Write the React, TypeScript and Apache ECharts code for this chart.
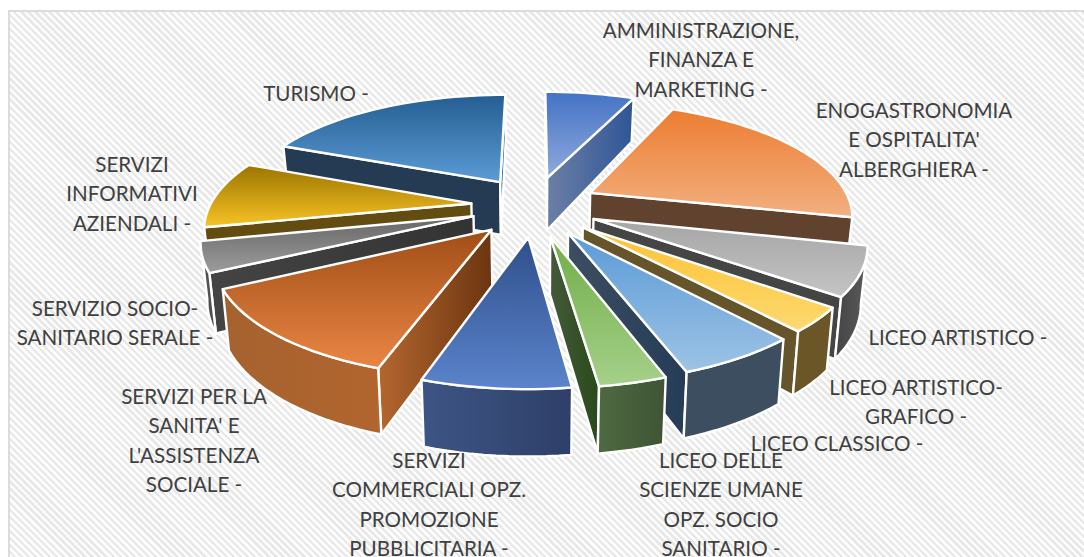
import React, { useEffect, useRef } from "react";
import * as echarts from "echarts";

const categories = [
  "AMMINISTRAZIONE,\nFINANZA E\nMARKETING -",
  "ENOGASTRONOMIA\nE OSPITALITA'\nALBERGHIERA -",
  "LICEO ARTISTICO -",
  "LICEO ARTISTICO-\nGRAFICO -",
  "LICEO CLASSICO -",
  "LICEO DELLE\nSCIENZE UMANE\nOPZ. SOCIO\nSANITARIO -",
  "SERVIZI\nCOMMERCIALI OPZ.\nPROMOZIONE\nPUBBLICITARIA -",
  "SERVIZI PER LA\nSANITA' E\nL'ASSISTENZA\nSOCIALE -",
  "SERVIZIO SOCIO-\nSANITARIO SERALE -",
  "SERVIZI\nINFORMATIVI\nAZIENDALI -",
  "TURISMO -",
];
const values = [6.7, 21.8, 6.7, 3.3, 6.0, 3.3, 7.2, 12.4, 4.15, 9.4, 18.9];

const labelCenterX = [701, 914, 958, 916, 837, 721, 429, 194, 115, 132, 316];
const labelFirstLineY = [30, 110, 337, 387, 443, 460, 460, 396, 308, 164, 93];

const topColors = [
  ["#4472c4", "#8faadc"], ["#ed7d31", "#f2b081"], ["#a5a5a5", "#c4c4c4"], ["#fdc233", "#fdd970"],
  ["#5b9bd5", "#9dc3e6"], ["#70ad47", "#a5d08a"], ["#2f4f8a", "#5b84cc"], ["#a04e17", "#ea8644"],
  ["#666666", "#9c9c9c"], ["#9c7400", "#f8c425"], ["#255e91", "#5b9bd5"],
];
const startWallColors = [
  ["#6b7fa5", "#2f5597"], ["#61422f", "#61422f"], ["#454545", "#454545"], ["#66542a", "#66542a"],
  ["#3c4e60", "#3c4e60"], ["#445a3a", "#2a4a1a"], ["#3d5585", "#2e3f68"], ["#b5662f", "#6b3510"],
  ["#444444", "#333333"], ["#634c0f", "#634c0f"], ["#243b53", "#243b53"],
];
const endWallColors = [
  ["#6b7fa5", "#2f5597"], ["#61422f", "#61422f"], ["#454545", "#454545"], ["#66542a", "#66542a"],
  ["#3c4e60", "#253c58"], ["#445a3a", "#2a4a1a"], ["#3d5585", "#2e3f68"], ["#8a4a1c", "#6b3510"],
  ["#444444", "#2e2e2e"], ["#634c0f", "#634c0f"], ["#2e6da4", "#2e6da4"],
];
const outerWallColors = [
  ["#6b7fa5", "#2f5597"], ["#61422f", "#61422f"], ["#444444", "#5a5a5a"], ["#6a5626", "#6a5626"],
  ["#3c4e60", "#3c4e60"], ["#4e6a42", "#3f5434"], ["#3d5585", "#2e3f68"], ["#a5622f", "#b2652e"],
  ["#505050", "#505050"], ["#634c0f", "#634c0f"], ["#243b53", "#243b53"],
];

const VIEW = { cx: 534.5, cy: 206, focal: 1441, tilt: 612, dist: 5.4, explodeU: 0.2385, explodeV: 0.265, radius: 0.98 };

const total = values.reduce((a, b) => a + b, 0);
const startAngles: number[] = [];
values.reduce((acc, v, i) => {
  startAngles[i] = (acc / total) * 2 * Math.PI;
  return acc + v;
}, 0);

function project(u: number, v: number) {
  const d = VIEW.dist - v;
  return [VIEW.cx + (VIEW.focal * u) / d, VIEW.cy + (VIEW.tilt * v) / d];
}
function lower(u: number, v: number) {
  const p = project(u, v);
  return [VIEW.cx + (p[0] - VIEW.cx) * 0.98, p[1] + 55 + 10 * v];
}
function area(pts: number[][]) {
  let s = 0;
  pts.forEach((p, i) => {
    const q = pts[(i + 1) % pts.length];
    s += p[0] * q[1] - q[0] * p[1];
  });
  return s;
}
const hGrad = (c: string[]) =>
  new echarts.graphic.LinearGradient(0, 0, 1, 0, [{ offset: 0, color: c[0] }, { offset: 1, color: c[1] }]);
const vGrad = (c: string[]) =>
  new echarts.graphic.LinearGradient(0, 0, 0, 1, [{ offset: 0, color: c[0] }, { offset: 1, color: c[1] }]);
const edge = { stroke: "#ffffff", lineWidth: 2.4, lineJoin: "round" };

function renderSlice(_params: any, api: any) {
  const i = api.value(0);
  const a0 = startAngles[i];
  const a1 = a0 + (api.value(1) / total) * 2 * Math.PI;
  const mid = (a0 + a1) / 2;
  const u0 = VIEW.explodeU * Math.sin(mid);
  const v0 = -VIEW.explodeV * Math.cos(mid);
  const n = Math.max(4, Math.ceil((a1 - a0) / 0.04));
  const rim: number[][] = [];
  for (let k = 0; k <= n; k++) {
    const t = a0 + ((a1 - a0) * k) / n;
    rim.push([u0 + VIEW.radius * Math.sin(t), v0 - VIEW.radius * Math.cos(t)]);
  }
  const rimT = rim.map((p) => project(p[0], p[1]));
  const rimB = rim.map((p) => lower(p[0], p[1]));
  const apexT = project(u0, v0);
  const apexB = lower(u0, v0);
  const children: any[] = [];
  const poly = (points: number[][], fill: any) => ({
    type: "polygon",
    shape: { points },
    style: { fill, ...edge },
  });

  const startWall = [apexT, rimT[0], rimB[0], apexB];
  if (area(startWall) < 0) children.push(poly(startWall, hGrad(startWallColors[i])));
  const endWall = [apexT, rimT[n], rimB[n], apexB];
  if (area(endWall) > 0) children.push(poly(endWall, hGrad(endWallColors[i])));

  let run: number[] = [];
  const flush = () => {
    if (run.length > 1) {
      const pts = run.map((k) => rimT[k]).concat(run.slice().reverse().map((k) => rimB[k]));
      children.push(poly(pts, hGrad(outerWallColors[i])));
    }
    run = [];
  };
  for (let k = 0; k < n; k++) {
    if (rimT[k + 1][0] < rimT[k][0]) {
      if (!run.length) run.push(k);
      run.push(k + 1);
    } else flush();
  }
  flush();

  children.push(poly([apexT].concat(rimT), vGrad(topColors[i])));
  return { type: "group", children };
}

const drawOrder = values
  .map((v, i) => ({ i, v, depth: -Math.cos(startAngles[i] + (v / total) * Math.PI) }))
  .sort((a, b) => a.depth - b.depth);

export default function App() {
  const ref = useRef<HTMLDivElement>(null);
  useEffect(() => {
    const chart = echarts.init(ref.current!, undefined, { renderer: "svg" });
    chart.setOption({
      animation: false,
      backgroundColor: "transparent",
      series: [
        {
          type: "custom",
          coordinateSystem: "none",
          silent: true,
          renderItem: renderSlice,
          data: drawOrder.map((d) => [d.i, d.v]),
        },
      ],
      graphic: categories.map((c, i) => ({
        type: "text",
        z: 10,
        x: labelCenterX[i],
        y: labelFirstLineY[i] - 15,
        style: {
          text: c,
          fill: "#404040",
          fontFamily: "Lato",
          fontSize: 20.6,
          lineHeight: 29.5,
          align: "center",
          verticalAlign: "top",
        },
      })),
    });
    return () => chart.dispose();
  }, []);
  return (
    <div style={{ position: "fixed", left: 0, top: 0, width: 1084, height: 557, background: "#fff", overflow: "hidden" }}>
      <div
        style={{
          position: "absolute",
          left: 8,
          top: 10,
          right: -4,
          bottom: -4,
          borderLeft: "2px solid #dcdcdc",
          borderTop: "2px solid #dcdcdc",
          background: "repeating-linear-gradient(45deg, #e8e8e8 0 2.4px, #fdfdfd 2.4px 5px)",
        }}
      />
      <div ref={ref} style={{ position: "absolute", left: 0, top: 0, width: 1084, height: 557 }} />
    </div>
  );
}
